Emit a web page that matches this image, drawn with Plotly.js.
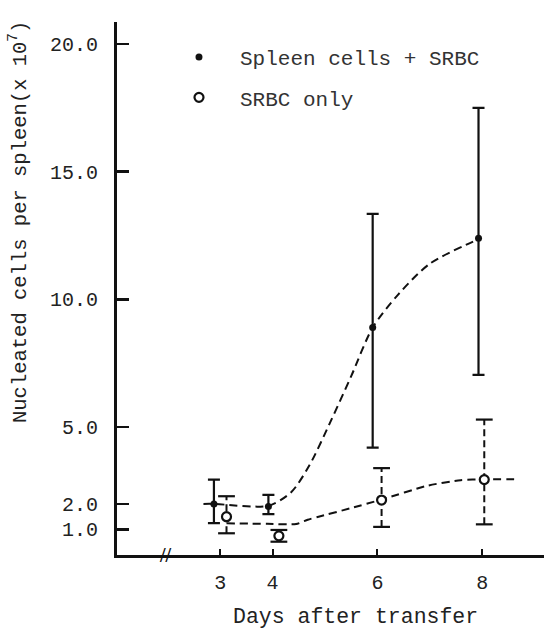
<!DOCTYPE html>
<html>
<head>
<meta charset="utf-8">
<script src="https://cdn.plot.ly/plotly-3.0.1.min.js"></script>
<style>
html, body { margin: 0; padding: 0; background: #ffffff; }
#chart { width: 544px; height: 631px; }
</style>
</head>
<body>
<div id="chart"></div>
<script>
// ---- Data ----
var seriesNames = ["Spleen cells + SRBC", "SRBC only"];

// Spleen cells + SRBC (filled dots, solid error bars)
var spleenDays  = [2.88, 3.92, 5.91, 7.93];
var spleenMean  = [2.0, 1.9, 8.9, 12.4];
var spleenUpper = [2.95, 2.35, 13.35, 17.5];
var spleenLower = [1.25, 1.6, 4.2, 7.05];

// SRBC only (open circles, dashed error bars)
var srbcDays  = [3.12, 4.12, 6.08, 8.04];
var srbcMean  = [1.5, 0.75, 2.15, 2.95];
var srbcUpper = [2.3, 0.98, 3.4, 5.3];
var srbcLower = [0.85, 0.52, 1.1, 1.2];

// Hand-drawn dashed trend curves
var spleenCurveDays = [2.68, 2.88, 3.92, 4.35, 4.7, 5.11, 5.5, 5.91, 6.4, 7.0, 7.93];
var spleenCurveVals = [2.0, 2.0, 1.93, 2.45, 3.5, 5.24, 7.0, 8.9, 10.2, 11.4, 12.36];
var srbcCurveDays = [3.12, 3.9, 4.45, 4.67, 4.86, 5.49, 6.08, 6.95, 7.59, 8.04, 8.69];
var srbcCurveVals = [1.24, 1.22, 1.21, 1.38, 1.49, 1.83, 2.17, 2.71, 2.93, 2.96, 2.96];

// Axis ticks
var xTickVals = [3, 4, 6, 8];
var xTickText = ["3", "4", "6", "8"];
var yTickVals = [1, 2, 5, 10, 15, 20];
var yTickText = ["1.0", "2.0", "5.0", "10.0", "15.0", "20.0"];

var ink = "#111111";
var mono = "Liberation Mono, Courier New, monospace";

// ---- Derived arrays ----
function diff(a, b) { return a.map(function (v, i) { return v - b[i]; }); }

var srbcBarX = [], srbcBarY = [], srbcCapX = [], srbcCapY = [];
srbcDays.forEach(function (d, i) {
  srbcBarX.push(d, d, null);
  srbcBarY.push(srbcLower[i], srbcUpper[i], null);
  srbcCapX.push(d, d);
  srbcCapY.push(srbcLower[i], srbcUpper[i]);
});

var traces = [
  { // spleen curve
    x: spleenCurveDays, y: spleenCurveVals, mode: "lines", showlegend: false, hoverinfo: "skip",
    line: { color: ink, width: 2, dash: "8px,5px", shape: "spline", smoothing: 0.8 }
  },
  { // srbc curve
    x: srbcCurveDays, y: srbcCurveVals, mode: "lines", showlegend: false, hoverinfo: "skip",
    line: { color: ink, width: 2, dash: "8px,5px", shape: "spline", smoothing: 0.6 }
  },
  { // srbc dashed error bars
    x: srbcBarX, y: srbcBarY, mode: "lines", showlegend: false, hoverinfo: "skip",
    line: { color: ink, width: 2, dash: "7px,4px" }
  },
  { // srbc caps
    x: srbcCapX, y: srbcCapY, mode: "markers", showlegend: false, hoverinfo: "skip",
    marker: { symbol: "line-ew-open", size: 12, color: ink, line: { color: ink, width: 2.2 } }
  },
  {
    name: seriesNames[0], legendgroup: "a",
    x: spleenDays, y: spleenMean, mode: "markers",
    marker: { symbol: "circle", size: 7, color: ink },
    error_y: { type: "data", symmetric: false,
      array: diff(spleenUpper, spleenMean), arrayminus: diff(spleenMean, spleenLower),
      color: ink, thickness: 2.2, width: 6 }
  },
  {
    name: seriesNames[1], legendgroup: "b",
    x: srbcDays, y: srbcMean, mode: "markers",
    marker: { symbol: "circle", size: 9, color: "#ffffff", line: { color: ink, width: 2.2 } }
  }
];

var layout = {
  width: 544, height: 631,
  paper_bgcolor: "#ffffff", plot_bgcolor: "#ffffff",
  margin: { l: 117, r: 0, t: 22, b: 76 },
  font: { family: mono, size: 20, color: "#222222" },
  showlegend: true,
  legend: {
    x: 0.096, y: 0.972, xanchor: "left", yanchor: "top",
    bgcolor: "rgba(0,0,0,0)", borderwidth: 0,
    itemwidth: 72, tracegroupgap: 10, traceorder: "grouped",
    font: { family: mono, size: 21, color: "#333333" }
  },
  xaxis: {
    range: [1.03, 9.18], tickmode: "array", tickvals: xTickVals, ticktext: xTickText,
    showgrid: false, zeroline: false, showline: true, linecolor: ink, linewidth: 3,
    ticks: "inside", ticklen: 6, tickwidth: 2, tickcolor: ink, ticklabelstandoff: 7,
    tickfont: { family: mono, size: 20, color: "#222222" }
  },
  yaxis: {
    range: [0, 20.86], tickmode: "array", tickvals: yTickVals, ticktext: yTickText,
    showgrid: false, zeroline: false, showline: true, linecolor: ink, linewidth: 3,
    ticks: "inside", ticklen: 12, tickwidth: 2.5, tickcolor: ink, ticklabelstandoff: 12,
    tickfont: { family: mono, size: 20, color: "#222222" }
  },
  annotations: [
    { text: "Days after transfer", xref: "paper", yref: "paper",
      x: (355 - 117) / 427, y: (555 - 617) / 533, xanchor: "center", yanchor: "middle",
      showarrow: false, font: { family: mono, size: 21.5, color: "#222222" } },
    { text: "Nucleated cells per spleen(x 10<sup>7</sup>)", xref: "paper", yref: "paper",
      x: (18 - 117) / 427, y: (555 - 222) / 533, xanchor: "center", yanchor: "middle",
      textangle: -90, showarrow: false, font: { family: mono, size: 20.5, color: "#222222" } },
    { text: "<b>//</b>", xref: "paper", yref: "paper",
      x: (165 - 117) / 427, y: 0, xanchor: "center", yanchor: "middle",
      showarrow: false, font: { family: "Liberation Serif, serif", size: 20, color: ink } }
  ]
};

Plotly.newPlot("chart", traces, layout, { displayModeBar: false, staticPlot: true });
</script>
</body>
</html>
